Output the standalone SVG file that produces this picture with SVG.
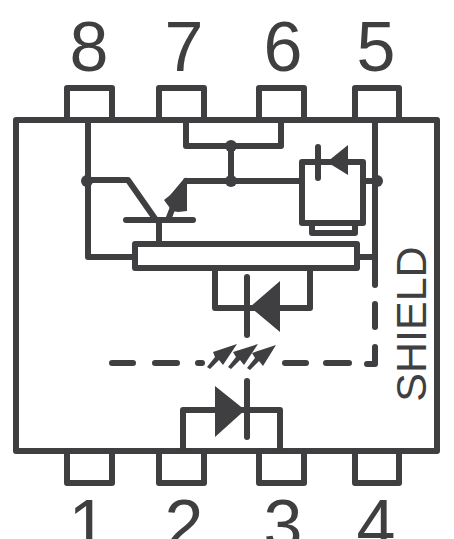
<svg xmlns="http://www.w3.org/2000/svg" width="454" height="539" viewBox="0 0 454 539">
<style>
.l{fill:none;stroke:#3f3f41;stroke-width:6;stroke-linejoin:round;stroke-linecap:round}
.f{fill:#3f3f41}
.t{fill:#3f3f41;font-family:"Liberation Sans",Arial,sans-serif;font-size:70px;text-anchor:middle}
</style>
<rect width="454" height="539" fill="#fff"/>
<g id="package"><rect class="l" x="16" y="120" width="421" height="331" fill="#fff"/></g>
<g id="pin8"><path class="l" d="M67 120V88H112V120"/><text class="t" x="89" y="71">8</text></g>
<g id="pin7"><path class="l" d="M159 120V88H204V120"/><text class="t" x="184" y="71">7</text></g>
<g id="pin6"><path class="l" d="M259 120V88H304V120"/><text class="t" x="283" y="71">6</text></g>
<g id="pin5"><path class="l" d="M355 120V88H399V120"/><text class="t" x="376" y="71">5</text></g>
<g id="pin1"><path class="l" d="M67 451V483H112V451"/><text class="t" x="88" y="549">1</text></g>
<g id="pin2"><path class="l" d="M159 451V483H204V451"/><text class="t" x="184" y="549">2</text></g>
<g id="pin3"><path class="l" d="M259 451V483H304V451"/><text class="t" x="283" y="549">3</text></g>
<g id="pin4"><path class="l" d="M355 451V483H399V451"/><text class="t" x="376" y="549">4</text></g>
<g id="connectors">
<path class="l" d="M88 122V257H134"/>
<path class="l" d="M186 122V146H281V122"/>
<path class="l" d="M231 146V181"/>
<path class="l" d="M88 180H128L156 220"/>
<path class="l" d="M186 181H302"/>
<path class="l" d="M186 181L170 200"/>
<path class="l" d="M168 220L173 207"/>
<path class="l" d="M159 221V243"/>
<path class="l" d="M375 122V285"/>
<path class="l" d="M363 181H375"/>
<path class="l" d="M357 257H375"/>
<path class="l" d="M215 268V308H310V268"/>
<path class="l" d="M183 448V410H280V448"/>
<circle class="f" cx="87" cy="181" r="6"/>
<circle class="f" cx="231" cy="146" r="6"/>
<circle class="f" cx="231" cy="181" r="6"/>
<circle class="f" cx="377" cy="181" r="6"/>
<path class="l" d="M375 304V327"/>
<path class="l" d="M375 347V364H367"/>
<path class="l" d="M112 363H133"/>
<path class="l" d="M155 363H177"/>
<path class="l" d="M198 363H202"/>
<path class="l" d="M285 363H306"/>
<path class="l" d="M326 363H349"/>
</g>
<g id="transistor">
<path class="l" d="M126 220H193"/>
<path class="f" d="M164 200L187 182L187 211L178 212L172 211Z"/>
</g>
<g id="zener">
<path class="l" d="M302 162H363V223H302Z"/>
<path class="l" d="M318 147V178"/>
<path class="f" d="M327 162L348 145V175Z"/>
<path class="l" d="M312 224V233H355V224"/>
</g>
<g id="buried-bar"><rect class="l" x="135" y="244" width="222" height="24" fill="#f6f5f2"/></g>
<g id="photodiode">
<path class="l" d="M247 277V335"/>
<path class="f" d="M250 307L280 281V332Z"/>
</g>
<g id="light-arrows">
<path class="f" d="M213 352L237 344L223 365L219 360L210 369L207 367L215 357Z"/>
<path class="f" d="M233 352L258 344L244 365L240 360L231 369L228 367L236 357Z"/>
<path class="f" d="M252 353L276 345L263 366L259 361L250 370L247 368L255 358Z"/>
</g>
<g id="led">
<path class="l" d="M247 381V437"/>
<path class="f" d="M215 386L245 410L215 437Z"/>
</g>
<g id="shield-label"><text class="t" transform="translate(426 324) rotate(-90)" style="font-size:43px">SHIELD</text></g>
</svg>
